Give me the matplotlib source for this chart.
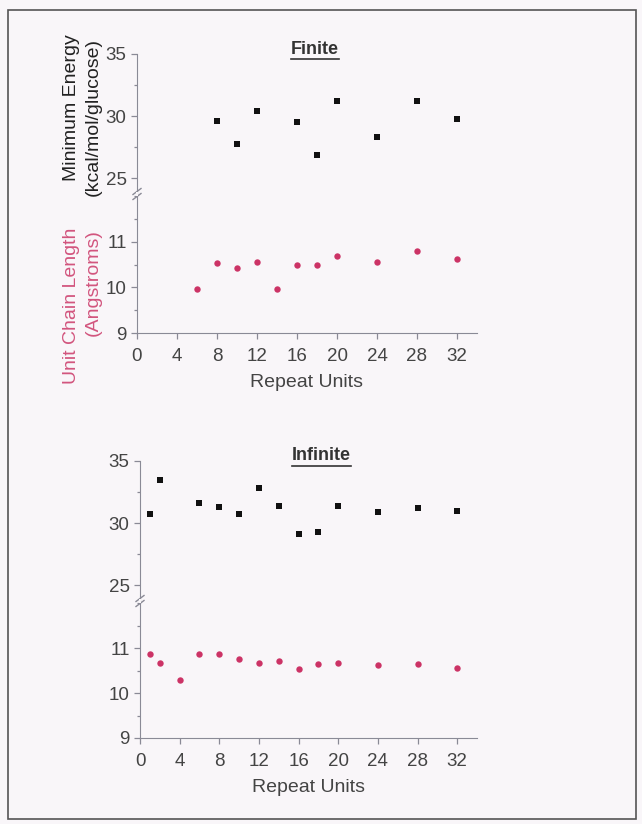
import matplotlib
matplotlib.use("Agg")
import matplotlib.pyplot as plt
from matplotlib.lines import Line2D
from matplotlib.patches import Rectangle
from matplotlib.ticker import MultipleLocator

plt.rcParams['font.family'] = ['Liberation Sans', 'DejaVu Sans']

# ---------------- data ----------------
finite_energy_x = [8, 10, 12, 16, 18, 20, 24, 28, 32]
finite_energy_y = [29.6, 27.8, 30.4, 29.5, 26.9, 31.2, 28.3, 31.2, 29.8]

finite_length_x = [6, 8, 10, 12, 14, 16, 18, 20, 24, 28, 32]
finite_length_y = [9.97, 10.54, 10.42, 10.56, 9.96, 10.49, 10.49, 10.69, 10.56, 10.80, 10.62]

infinite_x = [1, 2, 6, 8, 10, 12, 14, 16, 18, 20, 24, 28, 32]
infinite_energy_y = [30.75, 33.47, 31.65, 31.28, 30.75, 32.8, 31.36, 29.14, 29.33, 31.36, 30.93, 31.23, 30.96]

infinite_length_x = [1, 2, 4, 6, 8, 10, 12, 14, 16, 18, 20, 24, 28, 32]
infinite_length_y = [10.88, 10.66, 10.29, 10.88, 10.88, 10.76, 10.68, 10.71, 10.53, 10.65, 10.68, 10.63, 10.65, 10.55]

x_ticks = [0, 4, 8, 12, 16, 20, 24, 28, 32]
energy_ticks = [25, 30, 35]
length_ticks = [9, 10, 11]

panel_titles = ["Finite", "Infinite"]
x_label = "Repeat Units"
energy_label = ["Minimum Energy", "(kcal/mol/glucose)"]
length_label = ["Unit Chain Length", "(Angstroms)"]

# ---------------- style ----------------
W, H = 642, 824
BG = '#f9f6f9'
SPINE = '#8a8a96'
TXT = '#444444'
RED = '#cc3366'
RED_LBL = '#d2557e'

fig = plt.figure(figsize=(W / 100, H / 100), dpi=100, facecolor=BG)


def fx(px):
    return px / W


def fy(py):
    return 1 - py / H


# outer frame
fig.add_artist(Rectangle((fx(8), fy(819)), fx(628), (809) / H, transform=fig.transFigure,
                         fill=False, edgecolor='#555555', linewidth=1.2))


def make_panel(left, right, top, mid, bottom, ex, ey, lx, ly, title, title_dx):
    ax_top = fig.add_axes([fx(left), fy(mid), fx(right - left), (mid - top) / H])
    ax_bot = fig.add_axes([fx(left), fy(bottom), fx(right - left), (bottom - mid) / H])
    for ax in (ax_top, ax_bot):
        ax.set_facecolor('none')
        ax.set_xlim(0, 34)
        for s in ('top', 'right'):
            ax.spines[s].set_visible(False)
        ax.spines['left'].set_color(SPINE)
        ax.spines['bottom'].set_color(SPINE)
        ax.tick_params(colors=SPINE, labelcolor=TXT, labelsize=13.5, length=4, width=0.9)
        ax.tick_params(which='minor', colors=SPINE, length=2.5, width=0.9)
    ax_top.spines['bottom'].set_visible(False)
    ax_top.tick_params(axis='x', which='both', bottom=False, labelbottom=False)
    ax_top.set_ylim(23.75, 35)
    ax_top.set_yticks(energy_ticks)
    ax_top.yaxis.set_minor_locator(MultipleLocator(2.5))
    ax_bot.set_ylim(9, 12.05)
    ax_bot.set_yticks(length_ticks)
    ax_bot.yaxis.set_minor_locator(MultipleLocator(0.5))
    ax_bot.set_xticks(x_ticks)
    ax_bot.tick_params(axis='x', pad=7)
    ax_bot.set_xlabel(x_label, fontsize=14, color=TXT, labelpad=6)
    ax_top.plot(ex, ey, 's', color='#111111', markersize=3.8, markeredgewidth=0, clip_on=False)
    ax_bot.plot(lx, ly, 'o', color=RED, markersize=4.6, markeredgewidth=0, clip_on=False)
    # break marks on y axis
    for dy in (-2.5, 2.5):
        fig.add_artist(Line2D([fx(left - 4), fx(left + 4)], [fy(mid + dy + 3), fy(mid + dy - 3)],
                              transform=fig.transFigure, color=SPINE, linewidth=1.0))
    fig.add_artist(Rectangle((fx(left - 1), fy(mid + 2)), fx(2), 4 / H, transform=fig.transFigure,
                             facecolor=BG, edgecolor='none', zorder=5))
    # title
    t = fig.text(fx((left + right) / 2 + title_dx), fy(top - 5), title, ha='center', va='center',
                 fontsize=13, fontweight='bold', color='#333333')
    return ax_top, ax_bot, t


a1, b1, t1 = make_panel(137, 477, 54, 194, 333, finite_energy_x, finite_energy_y,
                        finite_length_x, finite_length_y, panel_titles[0], 8)
a2, b2, t2 = make_panel(140, 477, 461, 601, 738, infinite_x, infinite_energy_y,
                        infinite_length_x, infinite_length_y, panel_titles[1], 13)

# y labels (finite panel only)
fig.text(fx(71), fy(108), energy_label[0], rotation=90, ha='center', va='center', fontsize=14, color='#222222')
fig.text(fx(93), fy(117), energy_label[1], rotation=90, ha='center', va='center', fontsize=14, color='#222222')
fig.text(fx(71), fy(306), length_label[0], rotation=90, ha='center', va='center', fontsize=14, color=RED_LBL)
fig.text(fx(93), fy(283), length_label[1], rotation=90, ha='center', va='center', fontsize=14, color=RED_LBL)

# underline titles
fig.canvas.draw()
r = fig.canvas.get_renderer()
for t in (t1, t2):
    bb = t.get_window_extent(r)
    y = (bb.y0 - 1.5) / fig.bbox.height
    fig.add_artist(Line2D([bb.x0 / fig.bbox.width, bb.x1 / fig.bbox.width], [y, y],
                          transform=fig.transFigure, color='#333333', linewidth=1.2))

fig.savefig('out.png', dpi=100, facecolor=BG)
